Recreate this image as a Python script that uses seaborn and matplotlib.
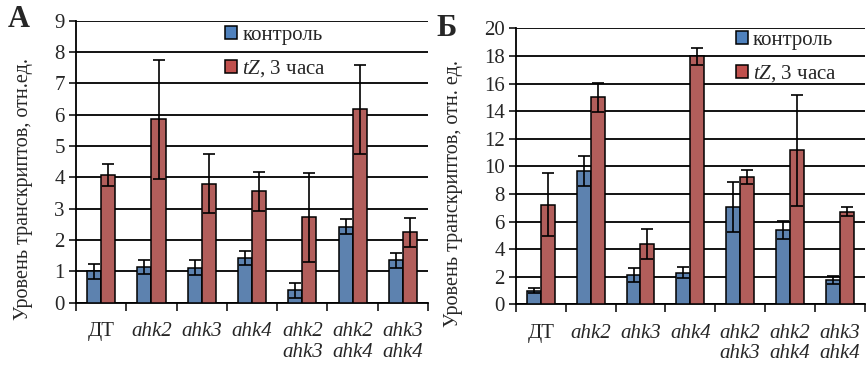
import numpy as np
import pandas as pd
import matplotlib
matplotlib.use('Agg')
import matplotlib.pyplot as plt
import seaborn as sns

sns.set_style('white')
plt.rcParams['font.family'] = ['Liberation Serif', 'DejaVu Serif']
plt.rcParams['mathtext.fontset'] = 'custom'
plt.rcParams['mathtext.rm'] = 'Liberation Serif'
plt.rcParams['mathtext.it'] = 'Liberation Serif:italic'

# ── данные ─────────────────────────────────────────────
lines = ['ДТ', 'ahk2', 'ahk3', 'ahk4', 'ahk2\nahk3', 'ahk2\nahk4', 'ahk3\nahk4']
groups = ['контроль', r'$\mathit{tZ}$, 3 часа']

a_ctrl = [1.0, 1.13, 1.12, 1.42, 0.40, 2.43, 1.35]
a_ctrl_err = [0.23, 0.23, 0.23, 0.22, 0.24, 0.23, 0.23]
a_tz = [4.08, 5.85, 3.80, 3.55, 2.72, 6.18, 2.25]
a_tz_err = [0.35, 1.90, 0.95, 0.63, 1.41, 1.42, 0.46]

b_ctrl = [1.0, 9.66, 2.10, 2.29, 7.05, 5.41, 1.76]
b_ctrl_err = [0.15, 1.10, 0.50, 0.40, 1.80, 0.65, 0.30]
b_tz = [7.22, 15.0, 4.39, 17.97, 9.25, 11.15, 6.72]
b_tz_err = [2.30, 1.05, 1.10, 0.60, 0.50, 4.00, 0.30]

COLORS = ['#4F81BD', '#C0504D']


def panel(ax, ctrl, ctrl_err, tz, tz_err, ymax, ystep, letter, letter_pos,
          ylabel, leg_anchor):
    df = pd.DataFrame({
        'line': lines * 2,
        'group': [groups[0]] * len(lines) + [groups[1]] * len(lines),
        'value': ctrl + tz,
    })
    sns.barplot(data=df, x='line', y='value', hue='group', order=lines,
                hue_order=groups, palette=COLORS, width=0.56, errorbar=None,
                edgecolor='black', linewidth=1.1, ax=ax, zorder=3)
    for cont, errs in zip(ax.containers, [ctrl_err, tz_err]):
        xs = [p.get_x() + p.get_width() / 2 for p in cont]
        ys = [p.get_height() for p in cont]
        ax.errorbar(xs, ys, yerr=errs, fmt='none', ecolor='black',
                    elinewidth=1.2, capsize=4, capthick=1.2, zorder=4)

    ax.set_ylim(0, ymax)
    ax.set_xlim(-0.5, len(lines) - 0.5)
    ax.set_yticks(np.arange(0, ymax + 0.1, ystep))
    ax.yaxis.grid(True, color='black', linewidth=1.3)
    ax.set_axisbelow(True)
    for s in ['top', 'right']:
        ax.spines[s].set_visible(False)
    for s in ['left', 'bottom']:
        ax.spines[s].set_color('black')
        ax.spines[s].set_linewidth(1.3)
    ax.tick_params(axis='y', length=5, width=1.3, labelsize=15, pad=3, left=True)
    ax.set_xticks(np.arange(-0.5, len(lines)), minor=True)
    ax.tick_params(axis='x', which='minor', length=6, width=1.3, bottom=True)
    ax.tick_params(axis='x', which='major', length=0, labelsize=15, pad=14)
    for lab in ax.get_xticklabels():
        lab.set_linespacing(1.1)
        if lab.get_text() != 'ДТ':
            lab.set_style('italic')
    ax.set_xlabel('')
    ax.set_ylabel(ylabel, fontsize=14.5)

    handles = [plt.Rectangle((0, 0), 1, 1, facecolor=c, edgecolor='black', linewidth=1.1)
               for c in COLORS]
    ax.legend(handles, groups, loc='upper left', bbox_to_anchor=leg_anchor,
              frameon=False, fontsize=15, handlelength=0.58, handleheight=0.58,
              handletextpad=0.25, labelspacing=0.65, borderaxespad=0)
    ax.text(letter_pos[0], letter_pos[1], letter, transform=ax.transAxes,
            fontsize=22, fontweight='bold', ha='left', va='center')


fig = plt.figure(figsize=(8.67, 3.65), dpi=100)
ax1 = fig.add_axes([0.0877, 0.1707, 0.406, 0.7726])
ax2 = fig.add_axes([0.595, 0.1663, 0.4025, 0.756])

panel(ax1, a_ctrl, a_ctrl_err, a_tz, a_tz_err, 9, 1, 'А', (-0.195, 1.005),
      'Уровень транскриптов, отн.ед.', (0.40, 1.012))
panel(ax2, b_ctrl, b_ctrl_err, b_tz, b_tz_err, 20, 2, 'Б', (-0.228, 1.0),
      'Уровень транскриптов, отн. ед.', (0.606, 1.022))

ax1.yaxis.set_label_coords(-0.123, 0.403)
ax2.yaxis.set_label_coords(-0.152, 0.403)

fig.savefig('out.png', dpi=100)
